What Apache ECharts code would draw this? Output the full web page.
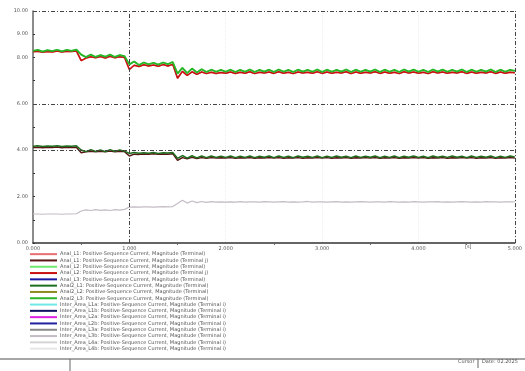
<!DOCTYPE html>
<html><head><meta charset="utf-8">
<script src="https://cdn.jsdelivr.net/npm/echarts@6/dist/echarts.min.js"></script>
<style>html,body{margin:0;padding:0;background:#fff}#c{width:525px;height:371px}</style>
</head><body><div id="c"></div>
<script>
var times=[0,0.05,0.1,0.15,0.2,0.25,0.3,0.35,0.4,0.45,0.5,0.55,0.6,0.65,0.7,0.75,0.8,0.85,0.9,0.95,1,1.05,1.1,1.15,1.2,1.25,1.3,1.35,1.4,1.45,1.5,1.55,1.6,1.65,1.7,1.75,1.8,1.85,1.9,1.95,2,2.05,2.1,2.15,2.2,2.25,2.3,2.35,2.4,2.45,2.5,2.55,2.6,2.65,2.7,2.75,2.8,2.85,2.9,2.95,3,3.05,3.1,3.15,3.2,3.25,3.3,3.35,3.4,3.45,3.5,3.55,3.6,3.65,3.7,3.75,3.8,3.85,3.9,3.95,4,4.05,4.1,4.15,4.2,4.25,4.3,4.35,4.4,4.45,4.5,4.55,4.6,4.65,4.7,4.75,4.8,4.85,4.9,4.95,5];

var upperGreen=[8.28,8.32,8.25,8.31,8.27,8.33,8.26,8.32,8.28,8.34,
8.12,8.01,8.12,8.02,8.10,8.03,8.12,8.02,8.10,8.05,
7.70,7.82,7.67,7.78,7.70,7.77,7.69,7.78,7.71,7.80,
7.30,7.55,7.32,7.52,7.35,7.49,7.37,7.47,7.38,7.46,
7.38,7.47,7.37,7.46,7.38,7.48,7.37,7.46,7.39,7.47,
7.37,7.48,7.38,7.46,7.37,7.47,7.39,7.46,7.38,7.48,
7.37,7.47,7.38,7.46,7.39,7.48,7.37,7.47,7.38,7.46,
7.39,7.48,7.37,7.47,7.38,7.46,7.37,7.48,7.39,7.47,
7.38,7.46,7.37,7.48,7.39,7.47,7.38,7.46,7.39,7.48,
7.37,7.47,7.38,7.46,7.39,7.48,7.37,7.47,7.38,7.46,
7.42];

var upperRed=[8.24,8.26,8.22,8.25,8.23,8.27,8.23,8.26,8.25,8.28,
7.86,7.97,8.03,7.98,8.04,7.97,8.05,7.98,8.03,8.00,
7.48,7.66,7.61,7.68,7.63,7.67,7.62,7.69,7.63,7.70,
7.10,7.40,7.22,7.38,7.27,7.37,7.30,7.36,7.31,7.35,
7.32,7.37,7.31,7.36,7.32,7.38,7.30,7.36,7.33,7.37,
7.31,7.38,7.32,7.36,7.30,7.37,7.33,7.36,7.32,7.38,
7.31,7.37,7.32,7.36,7.33,7.38,7.30,7.37,7.32,7.36,
7.33,7.38,7.31,7.37,7.32,7.36,7.30,7.38,7.33,7.37,
7.32,7.36,7.30,7.38,7.33,7.37,7.32,7.36,7.33,7.38,
7.31,7.37,7.32,7.36,7.33,7.38,7.31,7.37,7.32,7.36,
7.34];

var midGreen=[4.17,4.19,4.16,4.18,4.17,4.19,4.16,4.18,4.17,4.19,
4.01,3.94,4.02,3.95,4.01,3.94,4.02,3.95,4.01,3.96,
3.86,3.90,3.87,3.89,3.87,3.90,3.86,3.89,3.88,3.90,
3.65,3.77,3.66,3.76,3.67,3.75,3.68,3.75,3.69,3.74,
3.69,3.75,3.68,3.74,3.69,3.75,3.68,3.74,3.70,3.75,
3.68,3.75,3.69,3.74,3.68,3.75,3.70,3.74,3.69,3.75,
3.68,3.74,3.69,3.75,3.70,3.74,3.68,3.75,3.69,3.74,
3.70,3.75,3.68,3.74,3.69,3.75,3.68,3.74,3.70,3.75,
3.69,3.74,3.68,3.75,3.70,3.74,3.69,3.75,3.70,3.74,
3.68,3.75,3.69,3.74,3.70,3.75,3.68,3.74,3.69,3.75,
3.71];

var midRed=[4.12,4.13,4.11,4.13,4.12,4.14,4.11,4.13,4.12,4.13,
3.89,3.93,3.95,3.93,3.95,3.93,3.96,3.93,3.95,3.94,
3.75,3.83,3.82,3.84,3.83,3.85,3.82,3.84,3.83,3.85,
3.56,3.68,3.63,3.69,3.64,3.68,3.65,3.68,3.66,3.67,
3.66,3.68,3.65,3.67,3.66,3.68,3.65,3.67,3.66,3.68,
3.66,3.68,3.65,3.67,3.66,3.68,3.65,3.67,3.66,3.68,
3.66,3.68,3.65,3.67,3.66,3.68,3.65,3.67,3.66,3.68,
3.66,3.68,3.65,3.67,3.66,3.68,3.65,3.67,3.66,3.68,
3.66,3.68,3.65,3.67,3.66,3.68,3.65,3.67,3.66,3.68,
3.66,3.68,3.65,3.67,3.66,3.68,3.65,3.67,3.66,3.68,
3.66];

var grayLine=[1.25,1.25,1.24,1.25,1.25,1.25,1.24,1.25,1.25,1.26,
1.38,1.43,1.40,1.44,1.41,1.43,1.40,1.44,1.42,1.45,
1.55,1.56,1.55,1.56,1.56,1.55,1.56,1.57,1.56,1.57,
1.70,1.84,1.72,1.81,1.74,1.79,1.75,1.78,1.76,1.77,
1.76,1.77,1.76,1.78,1.76,1.77,1.77,1.76,1.78,1.77,
1.76,1.77,1.78,1.76,1.77,1.76,1.77,1.79,1.76,1.77,
1.77,1.76,1.77,1.78,1.76,1.77,1.76,1.77,1.78,1.77,
1.76,1.77,1.77,1.76,1.78,1.77,1.76,1.77,1.76,1.78,
1.77,1.76,1.77,1.77,1.78,1.76,1.77,1.76,1.77,1.78,
1.77,1.76,1.77,1.76,1.78,1.77,1.77,1.76,1.77,1.77,
1.77];

var yLabelValues=[0,2,4,6,8,9,10];
var xTickLabels=['0.000','1.000','2.000','3.000','4.000','5.000'];

var seriesNames=[
'Anal_L1: Positive-Sequence Current, Magnitude (Terminal)',
'Anal_L1: Positive-Sequence Current, Magnitude (Terminal j)',
'Anal_L2: Positive-Sequence Current, Magnitude (Terminal)',
'Anal_L2: Positive-Sequence Current, Magnitude (Terminal j)',
'Anal_L3: Positive-Sequence Current, Magnitude (Terminal)',
'Anal2_L1: Positive-Sequence Current, Magnitude (Terminal)',
'Anal2_L2: Positive-Sequence Current, Magnitude (Terminal)',
'Anal2_L3: Positive-Sequence Current, Magnitude (Terminal)',
'Inter_Area_L1a: Positive-Sequence Current, Magnitude (Terminal i)',
'Inter_Area_L1b: Positive-Sequence Current, Magnitude (Terminal i)',
'Inter_Area_L2a: Positive-Sequence Current, Magnitude (Terminal i)',
'Inter_Area_L2b: Positive-Sequence Current, Magnitude (Terminal i)',
'Inter_Area_L3a: Positive-Sequence Current, Magnitude (Terminal i)',
'Inter_Area_L3b: Positive-Sequence Current, Magnitude (Terminal i)',
'Inter_Area_L4a: Positive-Sequence Current, Magnitude (Terminal i)',
'Inter_Area_L4b: Positive-Sequence Current, Magnitude (Terminal i)'];
var seriesColors=['#e87070','#5a1414','#70e870','#c81010','#1818a0','#1e6e1e','#8a8a20','#28b428',
'#70e8e8','#101060','#e020e0','#2020a0','#888888','#c4bcc4','#d4d4d4','#e6e6e6'];
var seriesData=[upperRed,midRed,upperGreen,upperRed,null,midGreen,null,upperGreen,
null,null,null,null,null,grayLine,null,null];
var seriesWidths=[1.5,1.5,1.5,1.5,1.5,1.5,1.5,1.8,1.5,1.5,1.5,1.5,1.5,1.2,1.5,1.5];

function pairs(arr){ if(!arr) return []; return times.map(function(t,i){return [t,arr[i]];}); }

var FONT='DejaVu Sans';
var series=seriesNames.map(function(n,i){
  return {name:n,type:'line',data:pairs(seriesData[i]),showSymbol:false,symbol:'none',
    color:seriesColors[i],lineStyle:{width:seriesWidths[i],color:seriesColors[i]},animation:false};
});
series[0].markLine={silent:true,symbol:'none',label:{show:false},
  lineStyle:{color:'#444',type:[4,2,1,2],width:1},
  data:[{xAxis:1},{xAxis:5},{yAxis:4},{yAxis:6},{yAxis:10}]};

var chart=echarts.init(document.getElementById('c'),null,{renderer:'canvas'});
chart.setOption({
  animation:false,
  backgroundColor:'#fff',
  grid:{left:33,right:6,top:11,height:232},
  xAxis:{type:'value',min:0,max:5,interval:1,
    axisLine:{lineStyle:{color:'#333',width:1.5}},
    axisTick:{show:false},
    minorTick:{show:true,splitNumber:2,length:2,lineStyle:{color:'#666'}},
    splitLine:{show:true,lineStyle:{color:'#eeeeee',type:'dotted'}},
    axisLabel:{fontFamily:FONT,fontSize:5,color:'#555',margin:3,
      formatter:function(v){return xTickLabels[Math.round(v)];}}},
  yAxis:{type:'value',min:0,max:10,interval:1,
    axisLine:{show:true,lineStyle:{color:'#666',width:1.5}},
    axisTick:{show:true,inside:true,length:2,lineStyle:{color:'#333'}},
    splitLine:{show:false},
    axisLabel:{fontFamily:FONT,fontSize:5,color:'#555',margin:5,
      formatter:function(v){return yLabelValues.indexOf(v)>=0?v.toFixed(2):'';}}},
  legend:{orient:'vertical',left:30,top:251,itemWidth:27,itemHeight:2,itemGap:0,
    icon:'rect',selectedMode:false,padding:0,
    textStyle:{fontFamily:FONT,fontSize:5,lineHeight:6.3,color:'#555',padding:[0,0,0,-2]},
    data:seriesNames},
  graphic:[
    {type:'line',shape:{x1:0,y1:359,x2:525,y2:359},style:{stroke:'#888',lineWidth:1.5}},
    {type:'line',shape:{x1:70,y1:359,x2:70,y2:371},style:{stroke:'#666',lineWidth:1}},
    {type:'line',shape:{x1:478,y1:359,x2:478,y2:368},style:{stroke:'#666',lineWidth:1}},
    {type:'text',x:458,y:359.5,style:{text:'Cursor',fontFamily:FONT,fontSize:5,fill:'#555'}},
    {type:'text',x:482,y:359.5,style:{text:'Date: 02.2025',fontFamily:FONT,fontSize:5,fill:'#555'}},
    {type:'text',x:465,y:244.5,style:{text:'[s]',fontFamily:FONT,fontSize:5,fill:'#555'}}
  ],
  series:series
});
</script></body></html>
